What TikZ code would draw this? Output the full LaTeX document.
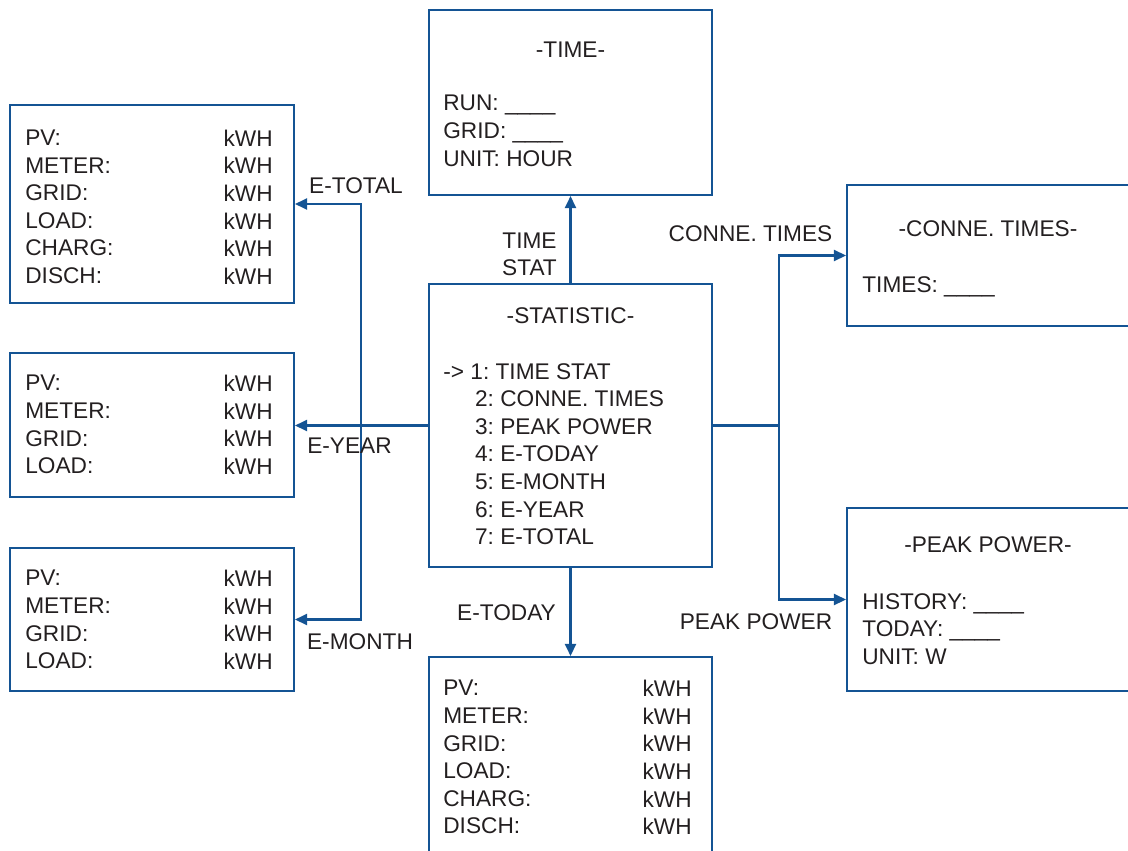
\documentclass[tikz,border=0pt]{standalone}
\usepackage{fontspec}
\setmainfont{Liberation Sans}
\usetikzlibrary{arrows.meta}
\definecolor{flow}{RGB}{20,84,148}
\definecolor{ink}{RGB}{35,31,32}
\tikzset{
    panel/.style={draw=flow, line width=1.2pt, inner sep=0pt},
    txt/.style={font=\fontsize{12.9}{15.7}\selectfont\frenchspacing, text=ink, inner sep=0pt, align=left},
    ttl/.style={txt, anchor=north},
    body/.style={txt, anchor=north west},
    units/.style={txt, align=right, anchor=north east},
    lbl/.style={txt, align=center},
    wire/.style={draw=flow, line width=1.3pt},
    conn/.style={wire, -{Triangle[length=2.4mm, width=2.2mm]}},
}

\begin{document}
\begin{tikzpicture}[x=0.02cm, y=-0.02cm]
        \path[use as bounding box, clip] (0,0) rectangle (1128,851);

        % Panels
        \node[panel, minimum width=5.66cm, minimum height=3.7cm]  (time)  at (570.5,102.5) {};
        \node[panel, minimum width=5.66cm, minimum height=5.66cm] (stat)  at (570.5,425.5) {};
        \node[panel, minimum width=5.66cm, minimum height=3.96cm] (today) at (570.5,756)   {};
        \node[panel, minimum width=5.68cm, minimum height=3.96cm] (total) at (152,204)     {};
        \node[panel, minimum width=5.68cm, minimum height=2.88cm] (year)  at (152,425)     {};
        \node[panel, minimum width=5.68cm, minimum height=2.86cm] (month) at (152,619.5)   {};
        \node[panel, minimum width=5.64cm, minimum height=2.82cm] (conne) at (988,255.5)   {};
        \node[panel, minimum width=5.64cm, minimum height=3.66cm] (peak)  at (988,599.5)   {};

        % Panel texts
        \node[ttl] (timettl) at (570.5,41.5) {-TIME-};
        \node[body] (timebody) at (443,95) {RUN: \_\_\_\_\\GRID: \_\_\_\_\\UNIT: HOUR};

        \node[ttl] (statttl) at (570.5,307) {-STATISTIC-};
        \node[body] (statmenu) at (443,363) {-> 1: TIME STAT\\
            \hspace*{1.4em}2: CONNE. TIMES\\ \hspace*{1.4em}3: PEAK POWER\\
            \hspace*{1.4em}4: E-TODAY\\ \hspace*{1.4em}5: E-MONTH\\
            \hspace*{1.4em}6: E-YEAR\\ \hspace*{1.4em}7: E-TOTAL};

        \node[body] (totalkeys) at (25,129.5) {PV:\\METER:\\GRID:\\LOAD:\\CHARG:\\DISCH:};
        \node[units] (totalunits) at (273,129.5) {kWH\\kWH\\kWH\\kWH\\kWH\\kWH};

        \node[body] (yearkeys) at (25,375) {PV:\\METER:\\GRID:\\LOAD:};
        \node[units] (yearunits) at (273,375) {kWH\\kWH\\kWH\\kWH};

        \node[body] (monthkeys) at (25,570) {PV:\\METER:\\GRID:\\LOAD:};
        \node[units] (monthunits) at (273,570) {kWH\\kWH\\kWH\\kWH};

        \node[body] (todaykeys) at (443,680) {PV:\\METER:\\GRID:\\LOAD:\\CHARG:\\DISCH:};
        \node[units] (todayunits) at (692,680) {kWH\\kWH\\kWH\\kWH\\kWH\\kWH};

        \node[ttl] (connettl) at (988,220) {-CONNE. TIMES-};
        \node[body] (connebody) at (862,276.5) {TIMES: \_\_\_\_};

        \node[ttl] (peakttl) at (988,536) {-PEAK POWER-};
        \node[body] (peakbody) at (862,593) {HISTORY: \_\_\_\_\\TODAY: \_\_\_\_\\UNIT: W};

        % Connectors
        \coordinate (lbus) at (361,426);
        \coordinate (rbus) at (779,426);

        \draw[conn] (stat) -- (time);
        \draw[conn] (stat) -- (today);
        \draw[conn] (stat.west) -- (stat.west -| year.east);
        \draw[conn] (lbus |- month.east) |- (total.east);
        \draw[conn] (lbus |- total.east) |- (month.east);
        \draw[wire] (stat.east) -- (stat.east -| rbus);
        \draw[conn] (rbus |- peak.west) |- (conne.west);
        \draw[conn] (rbus |- conne.west) |- (peak.west);

        % Connector labels
        \node[lbl] (ltime)  at (529.5,254.5) {TIME\\STAT};
        \node[lbl] (ltotal) at (356,185.5) {E-TOTAL};
        \node[lbl] (lyear)  at (349.5,445.5) {E-YEAR};
        \node[lbl] (lmonth) at (360,641.5) {E-MONTH};
        \node[lbl] (ltoday) at (506.5,613) {E-TODAY};
        \node[lbl] (lconne) at (750.5,234) {CONNE. TIMES};
        \node[lbl] (lpeak)  at (756,621.5) {PEAK POWER};
    \end{tikzpicture}
\end{document}
